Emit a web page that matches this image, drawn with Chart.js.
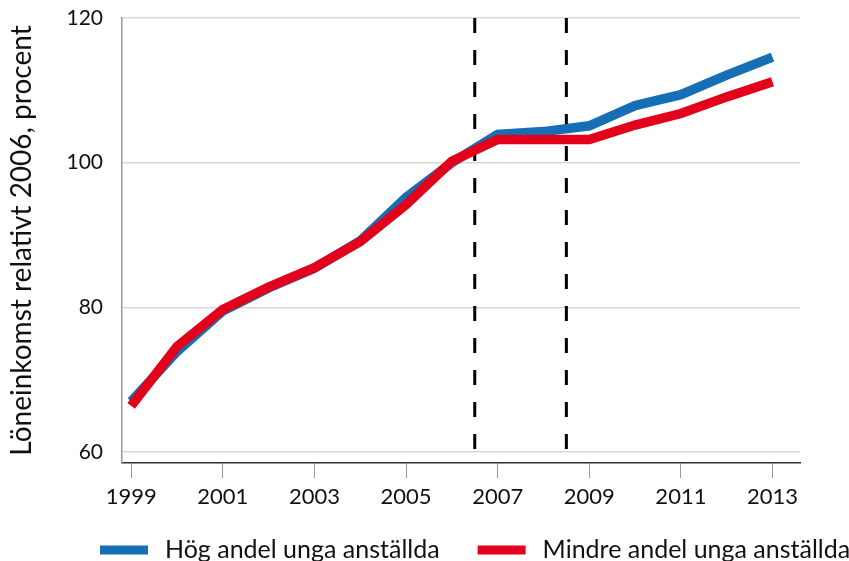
<!DOCTYPE html>
<html>
<head>
<meta charset="utf-8">
<script src="https://cdn.jsdelivr.net/npm/chart.js@4"></script>
<style>
  html, body { margin: 0; padding: 0; background: #fff; }
  #wrap { width: 849px; height: 561px; }
</style>
</head>
<body>
<div id="wrap"><canvas id="loneChart"></canvas></div>
<script>
const years = [1999, 2000, 2001, 2002, 2003, 2004, 2005, 2006, 2007, 2008, 2009, 2010, 2011, 2012, 2013];
const hogAndel = [67.0, 73.9, 79.5, 82.7, 85.4, 89.2, 95.2, 100.0, 103.9, 104.3, 105.1, 107.9, 109.4, 112.1, 114.6];
const mindreAndel = [66.4, 74.6, 79.7, 82.8, 85.5, 89.1, 94.2, 100.2, 103.2, 103.2, 103.2, 105.2, 106.8, 109.1, 111.2];
const xTickYears = [1999, 2001, 2003, 2005, 2007, 2009, 2011, 2013];
const yTickValues = [60, 80, 100, 120];
const breakYears = [2006.5, 2008.5];

const FONT = "Lato, 'Open Sans', sans-serif";

function toPoints(values) {
  return values.map((v, i) => ({ x: years[i], y: v }));
}

// vertical dashed lines, from top of axis down to 60
const breakSets = breakYears.map((yr) => ({
  label: "brott " + yr,
  data: [{ x: yr, y: 120 }, { x: yr, y: 60 }],
  borderColor: "#000",
  borderWidth: 3,
  borderDash: [15, 17],
  pointRadius: 0,
  fill: false,
  order: 2,
}));

// legend drawn by hand under the axis (box, gap, text, gap, next)
const bottomLegend = {
  id: "bottomLegend",
  afterDraw(chart) {
    const c = chart.ctx;
    let x = 100;
    const yMid = 550;
    c.save();
    c.font = "25px " + FONT;
    c.textBaseline = "middle";
    chart.data.datasets.slice(0, 2).forEach((ds) => {
      c.fillStyle = ds.borderColor;
      c.fillRect(x, yMid - 4.5, 48, 9);
      x += 48 + 17;
      c.fillStyle = "#111";
      c.fillText(ds.label, x, yMid);
      x += c.measureText(ds.label).width + 38;
    });
    c.restore();
  },
};

const ctx = document.getElementById("loneChart");

const chart = new Chart(ctx, {
  type: "line",
  data: {
    datasets: [
      {
        label: "Hög andel unga anställda",
        data: toPoints(hogAndel),
        borderColor: "#166fb5",
        backgroundColor: "#166fb5",
        borderWidth: 9.5,
        pointRadius: 0,
        tension: 0,
        order: 1,
      },
      {
        label: "Mindre andel unga anställda",
        data: toPoints(mindreAndel),
        borderColor: "#e2001a",
        backgroundColor: "#e2001a",
        borderWidth: 9.5,
        pointRadius: 0,
        tension: 0,
        order: 0,
      },
      ...breakSets,
    ],
  },
  options: {
    responsive: true,
    maintainAspectRatio: false,
    animation: false,
    layout: {
      padding: { top: 18, left: 5, right: 49, bottom: 38 },
    },
    scales: {
      x: {
        type: "linear",
        min: 1998.8,
        max: 2013.6,
        afterBuildTicks: (scale) => {
          scale.ticks = xTickYears.map((v) => ({ value: v }));
        },
        afterFit: (scale) => {
          scale.height = 60;
        },
        grid: {
          drawOnChartArea: false,
          color: "#999",
          tickLength: 15,
        },
        border: { color: "#333", width: 1.5 },
        ticks: {
          color: "#111",
          padding: 6,
          maxRotation: 0,
          font: { family: FONT, size: 22 },
          callback: (v) => String(v),
        },
      },
      y: {
        min: 58.5,
        max: 120,
        afterBuildTicks: (scale) => {
          scale.ticks = yTickValues.map((v) => ({ value: v }));
        },
        afterFit: (scale) => {
          scale.width = 117;
          // tick padding would otherwise push the plot down
          scale.paddingTop = 0;
          scale.paddingBottom = 0;
        },
        grid: {
          color: "#d9d9d9",
          lineWidth: 1.5,
          drawTicks: false,
        },
        border: { color: "#999", width: 1.5 },
        ticks: {
          color: "#111",
          padding: 19,
          font: { family: FONT, size: 21 },
        },
        title: {
          display: true,
          text: "Löneinkomst relativt 2006, procent",
          color: "#111",
          font: { family: FONT, size: 28 },
          padding: { top: 0, bottom: 0 },
        },
      },
    },
    plugins: {
      legend: { display: false },
      tooltip: { enabled: false },
    },
  },
  plugins: [bottomLegend],
});
</script>
</body>
</html>
